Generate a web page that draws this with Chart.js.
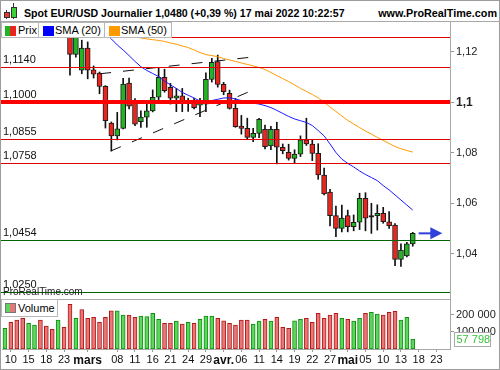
<!DOCTYPE html>
<html>
<head>
<meta charset="utf-8">
<script src="https://cdn.jsdelivr.net/npm/chart.js@4.4.1/dist/chart.umd.min.js"></script>
<style>
  body { margin: 0; background: #fff; font-family: "Liberation Sans", Arial, sans-serif; }
  #wrap { position: relative; width: 500px; height: 370px; overflow: hidden; background: #fff; }
  #frame { position: absolute; left: 0; top: 0; width: 500px; height: 370px; box-sizing: border-box; border: 1px solid #9c9c9c; pointer-events: none; z-index: 20; }
  #head { position: absolute; left: 0; top: 0; width: 500px; height: 21px; border-bottom: 1px solid #a8a8a8; }
  #title { position: absolute; left: 24px; top: 5px; font-size: 10.6px; font-weight: bold; line-height: 16px; color: #000; white-space: nowrap; }
  #site { position: absolute; right: 3px; top: 5px; font-size: 10.8px; font-weight: bold; line-height: 16px; color: #000; }
  .ic { position: absolute; box-sizing: border-box; border: 1px solid #333; }
  .wk { position: absolute; width: 1px; background: #333; }
  canvas { position: absolute; left: 0; }
  #price { top: 22px; }
  #vol { top: 300px; }
  #sep { position: absolute; left: 0; top: 299px; width: 451px; height: 1px; background: #a8a8a8; }
  .lg { position: absolute; top: 22px; height: 16px; box-sizing: border-box; border: 1px solid #b8b8b8; background: #fff; font-size: 11px; line-height: 14px; color: #000; z-index: 5; }
  .sq { position: absolute; top: 3px; width: 11px; height: 10px; }
  .lg span { position: absolute; top: 0; }
  #mark { position: absolute; left: 3px; top: 286px; font-size: 10px; line-height: 12px; color: #222; z-index: 4; }
  #vlg { position: absolute; left: 1px; top: 299px; width: 57px; height: 18px; box-sizing: border-box; border: 1px solid #b8b8b8; background: #fff; font-size: 11px; line-height: 16px; z-index: 5; }
</style>
</head>
<body>
<div id="wrap">
  <div id="head">
    <div class="wk" style="left:6px;top:10px;height:9px"></div>
    <div class="ic" style="left:4px;top:12px;width:6px;height:6px;background:#e8382e"></div>
    <div class="wk" style="left:13px;top:3px;height:16px"></div>
    <div class="ic" style="left:11px;top:7px;width:6px;height:11px;background:#3ccf3c"></div>
    <div id="title">Spot EUR/USD Journalier 1,0480 (+0,39 %) 17 mai 2022 10:22:57</div>
    <div id="site">www.ProRealTime.com</div>
  </div>
  <canvas id="price" width="500" height="277"></canvas>
  <div id="sep"></div>
  <canvas id="vol" width="500" height="70"></canvas>

  <div class="lg" style="left:1px;width:38px">
    <div class="sq" style="left:3px;background:linear-gradient(90deg,#22b422 50%,#e8261e 50%)"></div>
    <span style="left:16px">Prix</span>
  </div>
  <div class="lg" style="left:38px;width:67px">
    <div class="sq" style="left:4px;background:#0000ff"></div>
    <span style="left:16px">SMA (20)</span>
  </div>
  <div class="lg" style="left:104px;width:68px">
    <div class="sq" style="left:4px;background:#ff9900"></div>
    <span style="left:16px">SMA (50)</span>
  </div>
  <div id="mark">ProRealTime.com</div>
  <div id="vlg">
    <div class="sq" style="left:3px;top:3px;box-sizing:border-box;border:1px solid #777;background:linear-gradient(90deg,#5cd65c 50%,#e87878 50%)"></div>
    <span style="position:absolute;left:16px;top:0">Volume</span>
  </div>
  <div id="frame"></div>
</div>

<script>
// trading days shown on the chart (plus the empty days on the right)
const dates = [
  "09/02","10/02","11/02","14/02","15/02","16/02","17/02","18/02","21/02","22/02",
  "23/02","24/02","25/02","28/02","01/03","02/03","03/03","04/03","07/03","08/03",
  "09/03","10/03","11/03","14/03","15/03","16/03","17/03","18/03","21/03","22/03",
  "23/03","24/03","25/03","28/03","29/03","30/03","31/03","01/04","04/04","05/04",
  "06/04","07/04","08/04","11/04","12/04","13/04","14/04","15/04","18/04","19/04",
  "20/04","21/04","22/04","25/04","26/04","27/04","28/04","29/04","02/05","03/05",
  "04/05","05/05","06/05","09/05","10/05","11/05","12/05","13/05","16/05","17/05",
  "18/05","19/05","20/05","23/05","24/05","25/05"
];

const _ = null;
const open = [_,_,_,_,_,_,_,_,_,_,_,
  1.1300,1.1190,1.1127,1.1215,1.1129,1.1116,1.1063,1.0918,1.0867,1.0897,
  1.1076,1.1005,1.0923,1.0941,1.0966,1.1020,1.1099,1.1059,1.1016,1.1026,
  1.0998,1.1006,1.0989,1.0993,1.1091,1.1161,1.1071,1.1036,1.0976,1.0906,
  1.0897,1.0861,1.0877,1.0893,1.0827,1.0893,1.0822,1.0802,1.0778,1.0795,
  1.0851,1.0835,1.0798,1.0712,1.0644,1.0551,1.0501,1.0551,1.0507,1.0525,
  1.0620,1.0545,1.0551,1.0560,1.0527,1.0514,1.0378,1.0392,1.0439];
const high = [_,_,_,_,_,_,_,_,_,_,_,
  1.1315,1.1275,1.1246,1.1239,1.1144,1.1120,1.1066,1.0922,1.0960,1.1095,
  1.1096,1.1015,1.0966,1.0996,1.1049,1.1135,1.1131,1.1075,1.1055,1.1055,
  1.1016,1.1016,1.1016,1.1117,1.1174,1.1187,1.1079,1.1048,1.1015,1.0948,
  1.0937,1.0897,1.0937,1.0910,1.0905,1.0921,1.0835,1.0834,1.0812,1.0867,
  1.0937,1.0851,1.0836,1.0739,1.0655,1.0589,1.0593,1.0573,1.0554,1.0640,
  1.0642,1.0600,1.0594,1.0584,1.0567,1.0520,1.0439,1.0445,1.0485];
const low = [_,_,_,_,_,_,_,_,_,_,_,
  1.1107,1.1179,1.1113,1.1093,1.1096,1.1034,1.0898,1.0807,1.0851,1.0895,
  1.0974,1.0907,1.0901,1.0901,1.0962,1.1010,1.1040,1.0993,1.0963,1.0963,
  1.0964,1.0974,1.0943,1.0963,1.1080,1.1060,1.1030,1.0973,1.0901,1.0874,
  1.0853,1.0844,1.0860,1.0815,1.0812,1.0756,1.0796,1.0771,1.0761,1.0785,
  1.0829,1.0769,1.0695,1.0633,1.0510,1.0468,1.0487,1.0487,1.0491,1.0496,
  1.0491,1.0481,1.0494,1.0521,1.0501,1.0353,1.0350,1.0388,1.0430];
const close = [_,_,_,_,_,_,_,_,_,_,_,
  1.1190,1.1265,1.1215,1.1127,1.1111,1.1063,1.0927,1.0867,1.0895,1.1072,
  1.0985,1.0913,1.0941,1.0966,1.1020,1.1099,1.1046,1.1016,1.1026,1.1000,
  1.1004,1.0979,1.0996,1.1091,1.1158,1.1071,1.1042,1.0976,1.0903,1.0897,
  1.0861,1.0877,1.0933,1.0824,1.0893,1.0822,1.0808,1.0778,1.0795,1.0851,
  1.0835,1.0798,1.0712,1.0637,1.0551,1.0501,1.0541,1.0507,1.0525,1.0620,
  1.0541,1.0546,1.0560,1.0527,1.0511,1.0378,1.0415,1.0439,1.0481];

const sma20 = [_,_,_,_,_,_,_,_,_,_,_,_,_,_,_,_,
  1.1298,1.1274,1.1251,1.1227,1.1207,1.1185,1.1162,1.1141,1.1126,1.1114,
  1.1102,1.1084,1.1069,1.1055,1.1039,1.1028,1.1017,1.1005,1.1001,1.1007,
  1.1012,1.1017,1.1018,1.1013,1.1007,1.1001,1.0997,1.0993,1.0987,1.0979,
  1.0968,1.0956,1.0944,1.0934,1.0927,1.0920,1.0908,1.0888,1.0867,1.0835,
  1.0801,1.0775,1.0758,1.0744,1.0728,1.0714,1.0702,1.0690,1.0670,1.0653,
  1.0633,1.0613,1.0593,1.0573];
const sma50 = [_,_,_,_,_,_,_,_,_,_,_,_,_,_,_,_,_,_,_,_,_,_,
  1.1259,1.1255,1.1251,1.1248,1.1245,1.1241,1.1235,1.1230,1.1223,1.1217,
  1.1207,1.1197,1.1189,1.1185,1.1181,1.1173,1.1168,1.1162,1.1156,1.1150,
  1.1144,1.1138,1.1130,1.1118,1.1106,1.1094,1.1082,1.1069,1.1055,1.1043,
  1.1031,1.1017,1.1001,1.0981,1.0964,1.0946,1.0928,1.0914,1.0900,1.0886,
  1.0874,1.0861,1.0849,1.0837,1.0825,1.0816,1.0809,1.0803];

const volume = [
  122000,157000,170000,180000,151000,141000,170000,135000,116000,170000,
  128000,263000,180000,232000,180000,186000,157000,186000,224000,224000,
  199000,199000,186000,193000,190000,209000,174000,151000,151000,164000,
  147000,157000,151000,174000,193000,193000,180000,166000,151000,141000,
  170000,170000,147000,164000,174000,164000,186000,128000,122000,166000,
  174000,180000,157000,209000,180000,199000,209000,180000,174000,164000,
  180000,209000,215000,205000,199000,215000,222000,170000,186000,57798];
const volUp = [
  1,0,0,0,1,1,0,0,0,1, 0,0,1,0,0,0,0,0,0,1, 1,0,0,1,1,1,1,0,0,1,
  0,1,0,1,1,1,0,0,0,0, 0,0,1,1,0,1,0,0,0,1, 1,0,0,0,0,0,0,1,0,1,
  1,0,1,1,0,0,0,1,1,1];

// horizontal support / resistance lines
const levels = [1.1258, 1.1140, 1.1000, 1.0855, 1.0758, 1.0454, 1.0250];
const levelText = ["", "1,1140", "1,1000", "1,0855", "1,0758", "1,0454", "1,0250"];
const levelColor = ["#e00000", "#e00000", "#ff0000", "#e00000", "#e00000", "#006400", "#006400"];
const levelWidth = [1, 1, 4, 1, 1, 1, 1];

// dashed trend lines: [day index, price]
const trendUpper = [[16.1, 1.1113], [41.4, 1.1178]];
const trendLower = [[17.9, 1.0807], [42.2, 1.1051]];

const priceTicks = [1.04, 1.06, 1.08, 1.10, 1.12];
const volTicks = [100000, 200000];
const xTickIdx = [1, 4, 7, 10, 14, 19, 22, 25, 28, 31, 34, 37, 40, 43, 46, 49, 52, 55, 58, 61, 64, 67, 70, 73];
const xTickText = ["10", "15", "18", "23", "mars", "08", "11", "16", "21", "24", "29", "avr.", "06",
  "11", "14", "19", "22", "27", "mai", "05", "10", "13", "18", "23"];
const monthText = ["mars", "avr.", "mai"];

const X_MIN = -0.5, X_MAX = 75.3;
const FONT = '"Liberation Sans", Arial, sans-serif';
const UP = "#22b422", DOWN = "#e8261e";

Chart.defaults.font.family = FONT;
Chart.defaults.color = "#222";

const idx = open.map((v, i) => i).filter(i => open[i] !== null);
const lastIdx = close.length - 1;

function fixY(width) {
  return scale => {
    scale.width = width;
    scale.paddingTop = 0;
    scale.paddingBottom = 0;
  };
}

function points(arr) {
  return arr.map((v, i) => v === null ? null : { x: i, y: v }).filter(Boolean);
}

const levelPlugin = {
  id: "levels",
  afterDatasetsDraw(chart) {
    const { ctx, chartArea, scales } = chart;
    ctx.save();
    levels.forEach((v, i) => {
      const py = Math.round(scales.y.getPixelForValue(v));
      const off = levelWidth[i] % 2 ? 0.5 : 0;
      ctx.strokeStyle = levelColor[i];
      ctx.lineWidth = levelWidth[i];
      ctx.beginPath();
      ctx.moveTo(0, py + off);
      ctx.lineTo(chartArea.right, py + off);
      ctx.stroke();
      if (levelText[i]) {
        ctx.fillStyle = "#111";
        ctx.font = "11px " + FONT;
        ctx.fillText(levelText[i], 3, py - 4);
      }
    });

    // arrow on the last close
    const ay = scales.y.getPixelForValue(close[lastIdx]);
    const xs = scales.x.getPixelForValue(lastIdx + 1);
    const xe = scales.x.getPixelForValue(lastIdx + 5);
    ctx.strokeStyle = ctx.fillStyle = "#3040d8";
    ctx.lineWidth = 2;
    ctx.beginPath();
    ctx.moveTo(xs, ay);
    ctx.lineTo(xe - 10, ay);
    ctx.stroke();
    ctx.beginPath();
    ctx.moveTo(xe - 12, ay - 6);
    ctx.lineTo(xe, ay);
    ctx.lineTo(xe - 12, ay + 6);
    ctx.closePath();
    ctx.fill();
    ctx.restore();
  }
};

new Chart(document.getElementById("price"), {
  type: "bar",
  data: {
    datasets: [
      {
        type: "line", data: points(sma20), borderColor: "#1a1aff", borderWidth: 1,
        pointRadius: 0, tension: 0, order: 1
      },
      {
        type: "line", data: points(sma50), borderColor: "#ff9a00", borderWidth: 1,
        pointRadius: 0, tension: 0, order: 1
      },
      {
        type: "line", data: trendUpper.map(p => ({ x: p[0], y: p[1] })), borderColor: "#111",
        borderWidth: 1, borderDash: [11, 12], pointRadius: 0, order: 1
      },
      {
        type: "line", data: trendLower.map(p => ({ x: p[0], y: p[1] })), borderColor: "#111",
        borderWidth: 1, borderDash: [11, 12], pointRadius: 0, order: 1
      },
      {
        // candle bodies
        data: idx.map(i => ({ x: i, y: [open[i], close[i]] })),
        backgroundColor: idx.map(i => Math.abs(close[i] - open[i]) < 0.0003 ? "#111" : close[i] >= open[i] ? UP : DOWN),
        borderColor: "#1c1c1c", borderWidth: 1, borderSkipped: false,
        barThickness: 5, minBarLength: 1.5, grouped: false, order: 2
      },
      {
        // wicks
        data: idx.map(i => ({ x: i, y: [low[i], high[i]] })),
        backgroundColor: "#111", borderWidth: 0, barThickness: 1, grouped: false, order: 3
      }
    ]
  },
  options: {
    responsive: false, animation: false, devicePixelRatio: 1,
    layout: { padding: { left: 2, right: 0, top: 0, bottom: 0 } },
    plugins: { legend: { display: false }, tooltip: { enabled: false } },
    scales: {
      x: { type: "linear", min: X_MIN, max: X_MAX, offset: false, grid: { offset: false }, display: false },
      y: {
        position: "right", min: 1.0221, max: 1.1318,
        afterBuildTicks: s => { s.ticks = priceTicks.map(v => ({ value: v })); },
        afterFit: fixY(50),
        ticks: {
          padding: 2, color: "#222",
          callback: v => String(+v.toFixed(2)).replace(".", ","),
          font: c => c.tick && Math.abs(c.tick.value - 1.1) < 1e-9
            ? { size: 12, weight: "bold", family: FONT }
            : { size: 11, family: FONT }
        },
        grid: { drawOnChartArea: false, tickLength: 4, color: "#999" },
        border: { color: "#a8a8a8" }
      }
    }
  },
  plugins: [levelPlugin]
});

const badgePlugin = {
  id: "badge",
  afterDraw(chart) {
    const { ctx, chartArea, scales } = chart;
    const v = volume[volume.length - 1];
    const by = Math.round(scales.y.getPixelForValue(v));
    const bx = chartArea.right + 4;
    ctx.save();
    ctx.fillStyle = "#fff";
    ctx.fillRect(bx, by - 7, 37, 15);
    ctx.strokeStyle = "#aaa";
    ctx.lineWidth = 1;
    ctx.strokeRect(bx + 0.5, by - 6.5, 36, 14);
    ctx.fillStyle = "#36c236";
    ctx.font = "11px " + FONT;
    ctx.textBaseline = "middle";
    ctx.fillText(String(v).replace(/\B(?=(\d{3})+(?!\d))/g, " "), bx + 2.5, by + 1);
    ctx.restore();
  }
};

new Chart(document.getElementById("vol"), {
  type: "bar",
  data: {
    datasets: [{
      data: volume.map((v, i) => ({ x: i, y: v })),
      backgroundColor: volUp.map(u => u ? "#5cd65c" : "#e87878"),
      borderColor: volUp.map(u => u ? "#0f8f0f" : "#b01818"),
      borderWidth: 1, borderSkipped: false, barThickness: 4, grouped: false
    }]
  },
  options: {
    responsive: false, animation: false, devicePixelRatio: 1,
    layout: { padding: { left: 2, right: 0, top: 0, bottom: 0 } },
    plugins: { legend: { display: false }, tooltip: { enabled: false } },
    scales: {
      x: {
        type: "linear", min: X_MIN, max: X_MAX, offset: false,
        afterBuildTicks: s => { s.ticks = xTickIdx.map(v => ({ value: v })); },
        afterFit: s => { s.height = 21; s.paddingLeft = 0; s.paddingRight = 0; },
        ticks: {
          autoSkip: false, maxRotation: 0, minRotation: 0, padding: 1, color: "#111",
          callback: v => { const k = xTickIdx.indexOf(v); return k < 0 ? "" : xTickText[k]; },
          font: c => {
            const k = c.tick ? xTickIdx.indexOf(c.tick.value) : -1;
            return k >= 0 && monthText.includes(xTickText[k])
              ? { size: 12, weight: "bold", family: FONT }
              : { size: 11, family: FONT };
          }
        },
        grid: { offset: false, drawOnChartArea: false, tickLength: 3, color: "#999" },
        border: { color: "#a8a8a8" }
      },
      y: {
        position: "right", min: 0, max: 288000,
        afterBuildTicks: s => { s.ticks = volTicks.map(v => ({ value: v })); },
        afterFit: fixY(50),
        ticks: {
          padding: 2, color: "#222", font: { size: 11 },
          callback: v => String(v).replace(/\B(?=(\d{3})+(?!\d))/g, " ")
        },
        grid: { drawOnChartArea: false, tickLength: 4, color: "#999" },
        border: { color: "#a8a8a8" }
      }
    }
  },
  plugins: [badgePlugin]
});
</script>
</body>
</html>
